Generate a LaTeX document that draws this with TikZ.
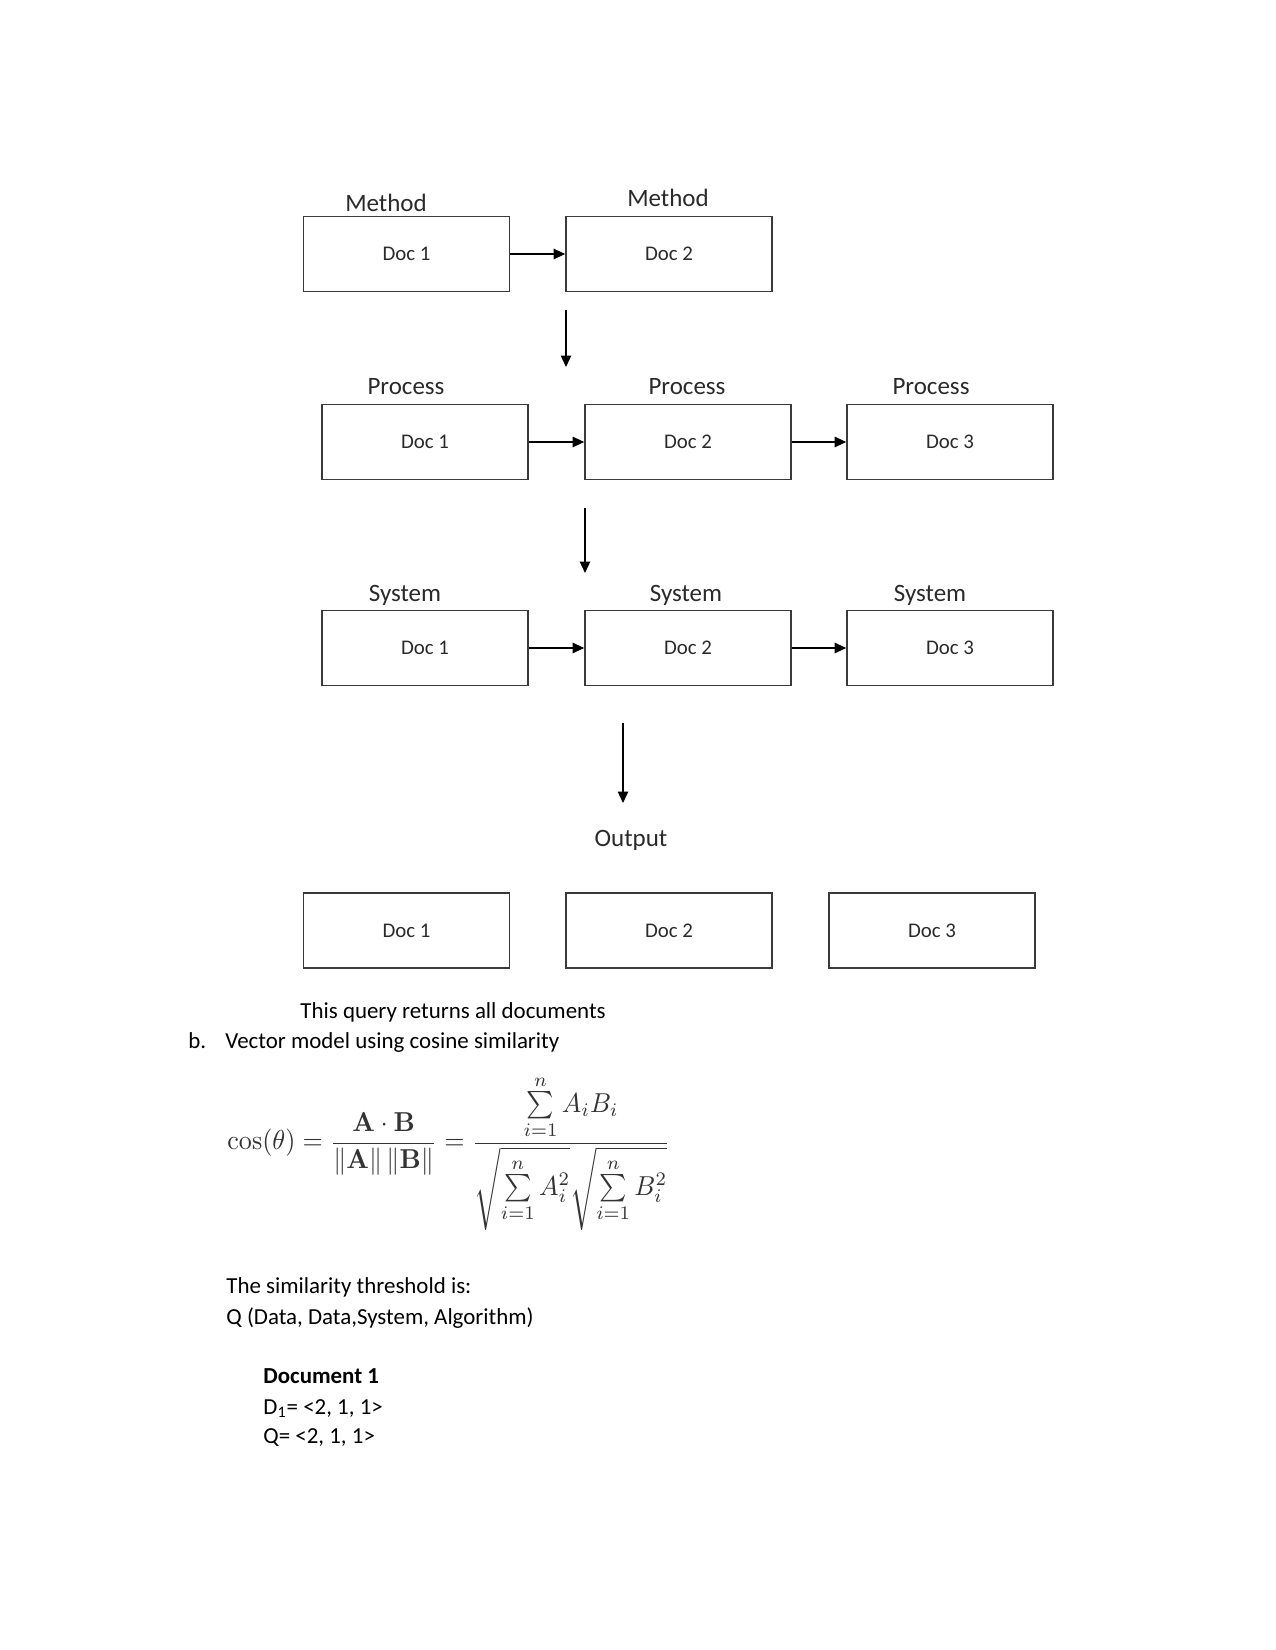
\documentclass[tikz,border=0pt]{standalone}
\usepackage{amsmath}
\usepackage{graphicx}
\usepackage[no-math]{fontspec}
\setmainfont{Carlito}
\usetikzlibrary{arrows.meta}
\definecolor{boxgray}{HTML}{3A3A3A}
\definecolor{textgray}{HTML}{2A2A2A}
\definecolor{formulagray}{HTML}{333333}
\begin{document}
\begin{tikzpicture}[x=0.48pt,y=-0.48pt,
  docbox/.style={draw=boxgray, line width=0.8pt, minimum width=98.9pt, minimum height=36pt, inner sep=0pt, font=\fontsize{10}{12}\selectfont, text=textgray},
  lbl/.style={anchor=base, font=\fontsize{12}{14}\selectfont, inner sep=0pt, text=textgray},
  arr/.style={-{Triangle[length=5.5pt,width=5pt]}, line width=0.7pt, draw=black},
  body/.style={anchor=base west, inner sep=0pt, font=\fontsize{11}{13}\selectfont}]
\useasboundingbox (0,0) rectangle (1275,1650);

% Method row
\node[docbox] (m1) at (406.5,254) {Doc 1};
\node[docbox] (m2) at (669,254) {Doc 2};
\node[lbl] (lm1) at (386,212) {Method};
\node[lbl] (lm2) at (668,207) {Method};
\draw[arr] (m1.east) -- (m2.west);
\coordinate (d1a) at (566,310);
\coordinate (d1b) at (566,367);
\draw[arr] (d1a) -- (d1b);

% Process row
\node[docbox] (p1) at (425,442) {Doc 1};
\node[docbox] (p2) at (688,442) {Doc 2};
\node[docbox] (p3) at (950,442) {Doc 3};
\node[lbl] (lp1) at (406,395) {Process};
\node[lbl] (lp2) at (687,395) {Process};
\node[lbl] (lp3) at (931,395) {Process};
\draw[arr] (p1.east) -- (p2.west);
\draw[arr] (p2.east) -- (p3.west);
\coordinate (d2a) at (585,508);
\coordinate (d2b) at (585,573);
\draw[arr] (d2a) -- (d2b);

% System row
\node[docbox] (s1) at (425,648) {Doc 1};
\node[docbox] (s2) at (688,648) {Doc 2};
\node[docbox] (s3) at (950,648) {Doc 3};
\node[lbl] (ls1) at (405,601) {System};
\node[lbl] (ls2) at (686,601) {System};
\node[lbl] (ls3) at (930,601) {System};
\draw[arr] (s1.east) -- (s2.west);
\draw[arr] (s2.east) -- (s3.west);
\coordinate (d3a) at (623,723);
\coordinate (d3b) at (623,803);
\draw[arr] (d3a) -- (d3b);

% Output row
\node[lbl] (lout) at (631,846) {Output};
\node[docbox] (o1) at (406.5,930.5) {Doc 1};
\node[docbox] (o2) at (669,930.5) {Doc 2};
\node[docbox] (o3) at (932,930.5) {Doc 3};

% Text
\node[body] (t1) at (300,1018) {This query returns all documents};
\node[body] (tb) at (188,1048) {b.};
\node[body] (t2) at (225,1048) {Vector model using cosine similarity};

\node[anchor=north west, inner sep=0pt, text=formulagray] (formula) at (227,1075)
 {\scalebox{1}[1.05]{\resizebox{212.6pt}{!}{$\displaystyle \cos(\theta) = \frac{\mathbf{A}\cdot\mathbf{B}}{\|\mathbf{A}\|\,\|\mathbf{B}\|} = \frac{\sum\limits_{i=1}^{n} A_i B_i}{\sqrt{\sum\limits_{i=1}^{n} A_i^2}\sqrt{\sum\limits_{i=1}^{n} B_i^2}}$}}};

\node[body] (t3) at (226,1293) {The similarity threshold is:};
\node[body] (t4) at (226,1324) {Q (Data, Data,System, Algorithm)};
\node[body, font=\fontsize{11}{13}\selectfont\bfseries] (t5) at (263,1383) {Document 1};
\node[body] (t6) at (263,1414) {D\textsubscript{1}= <2, 1, 1>};
\node[body] (t7) at (263,1443) {Q= <2, 1, 1>};
\end{tikzpicture}
\end{document}
